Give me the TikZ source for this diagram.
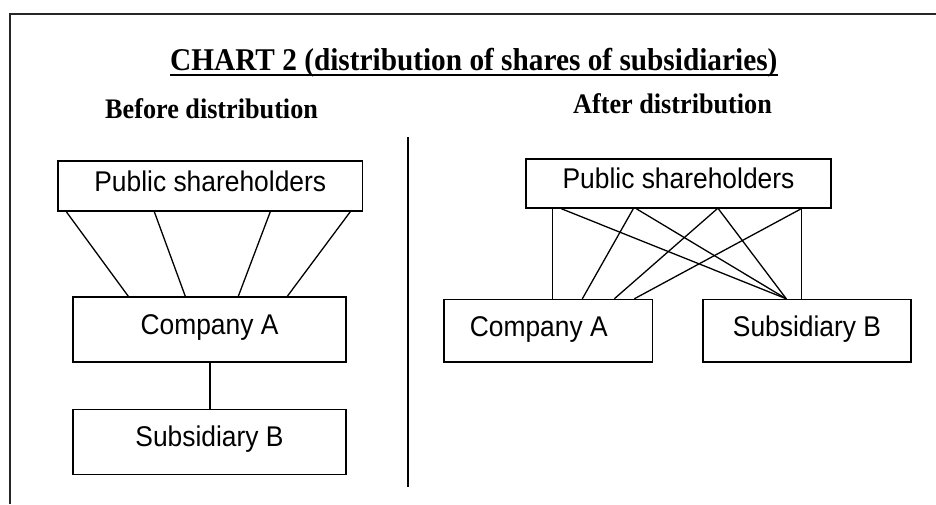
\documentclass[tikz,border=0pt]{standalone}
\usepackage{fontspec}
\usepackage{graphicx}
\setmainfont{Liberation Serif}
\newfontfamily\arialfont{Liberation Sans}
\newcommand{\vsc}[1]{\scalebox{1}[1.08]{#1}}
\begin{document}
\begin{tikzpicture}[x=1pt,y=-1pt,
  box/.style={draw, line width=1.4pt, inner sep=0pt,
    font=\arialfont\fontsize{26.4}{30}\selectfont,
    text height=20.5pt, text depth=10pt},
  conn/.style={line width=1.3pt},
  heading/.style={inner sep=0pt, anchor=base west, font=\bfseries\fontsize{29.3}{32}\selectfont},
  subhead/.style={inner sep=0pt, anchor=base west, font=\bfseries\fontsize{26.2}{30}\selectfont},
  frame/.style={line width=2pt, black!85}]
\useasboundingbox (0,0) rectangle (936,504);
% frame
\coordinate (f1) at (10,504);
\coordinate (f2) at (10,14);
\coordinate (f3) at (936,14);
\draw[frame] (f1) -- (f2) -- (f3);
% titles
\node[heading] (title) at (170,70) {\vsc{CHART 2 (distribution of shares of subsidiaries)}};
\draw[line width=2pt] ([yshift=-5pt]title.base west) -- ([yshift=-5pt]title.base east);
\node[subhead] (before) at (105,118) {\vsc{Before distribution}};
\node[subhead] (after) at (573,113) {\vsc{After distribution}};
% divider
\coordinate (d1) at (408,137);
\coordinate (d2) at (408,487);
\draw[line width=1.4pt] (d1) -- (d2);
% left side
\node[box, minimum width=304.5pt, minimum height=50pt] (ps1) at (210.25,186) {\vsc{Public shareholders}};
\node[box, minimum width=273pt, minimum height=65pt] (ca1) at (209.5,329.5) {\vsc{Company A}};
\node[box, minimum width=273pt, minimum height=65pt] (sb1) at (209.5,441.7) {\vsc{Subsidiary B}};
\draw[conn] ([xshift=9pt]ps1.south west) -- ([xshift=56pt]ca1.north west);
\draw[conn] ([xshift=97pt]ps1.south west) -- ([xshift=113pt]ca1.north west);
\draw[conn] ([xshift=213pt]ps1.south west) -- ([xshift=166pt]ca1.north west);
\draw[conn] ([xshift=293pt]ps1.south west) -- ([xshift=215pt]ca1.north west);
\draw[conn] ([xshift=0.5pt]ca1.south) -- ([xshift=0.5pt]sb1.north);
% right side
\node[box, minimum width=305pt, minimum height=49pt] (ps2) at (678.5,183.5) {\vsc{Public shareholders}};
\node[box, minimum width=208.5pt, minimum height=62.5pt] (ca2) at (548.25,330.75) {\vsc{Company A}\hspace*{19pt}};
\node[box, minimum width=208pt, minimum height=62.5pt] (sb2) at (807,330.75) {\vsc{Subsidiary B}};
\draw[conn] ([xshift=27pt]ps2.south west) -- ([xshift=109pt]ca2.north west);
\draw[conn] ([xshift=36pt]ps2.south west) -- ([xshift=84pt]sb2.north west);
\draw[conn] ([xshift=108pt]ps2.south west) -- ([xshift=139pt]ca2.north west);
\draw[conn] ([xshift=111pt]ps2.south west) -- ([xshift=84pt]sb2.north west);
\draw[conn] ([xshift=192pt]ps2.south west) -- ([xshift=171pt]ca2.north west);
\draw[conn] ([xshift=193pt]ps2.south west) -- ([xshift=84pt]sb2.north west);
\draw[conn] ([xshift=276pt]ps2.south west) -- ([xshift=191pt]ca2.north west);
\draw[conn] ([xshift=276pt]ps2.south west) -- ([xshift=99pt]sb2.north west);
\end{tikzpicture}
\end{document}
